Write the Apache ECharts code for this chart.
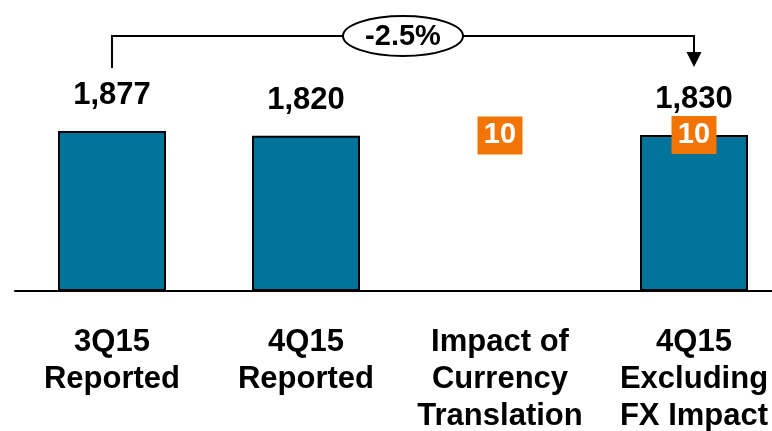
<!DOCTYPE html>
<html>
<head>
<meta charset="utf-8">
<script src="https://cdn.jsdelivr.net/npm/echarts@6/dist/echarts.min.js"></script>
<style>
    html, body { margin: 0; padding: 0; background: #fff; overflow: hidden; width: 772px; height: 431px; }
    /* 图比窗口略宽, 右侧轴线被裁掉 */
    #chart { width: 791px; height: 431px; }
</style>
</head>
<body>
<div id="chart"></div>
<script>
// 数据
var categories = ['3Q15\nReported', '4Q15\nReported', 'Impact of\nCurrency\nTranslation', '4Q15\nExcluding\nFX Impact'];
var barValues = [1877, 1820, '-', 1830];
var fxImpact = 10;
var fxCategories = [2, 3];

var tealColor = '#00739a';
var orangeColor = '#f27405';
var fontFamily = 'Liberation Sans, Arial, sans-serif';

// 橙色标签位置 (第三列浮在 1820~1830 中间, 第四列在柱顶)
var fxPoints = [
    [fxCategories[0], barValues[1] + fxImpact / 2],
    [fxCategories[1], barValues[3]]
];

var myChart = echarts.init(document.getElementById('chart'));

var option = {
    animation: false,
    grid: {
        left: 15,
        right: 0,
        top: 86.4,
        bottom: 140,
        outerBoundsMode: 'none'
    },
    textStyle: {
        fontFamily: fontFamily
    },
    xAxis: {
        type: 'category',
        data: categories,
        axisLine: {
            lineStyle: { color: '#000', width: 2 }
        },
        axisTick: { show: false },
        axisLabel: {
            interval: 0,
            margin: 33,
            color: '#000',
            fontSize: 31,
            fontWeight: 'bold',
            lineHeight: 37,
            fontFamily: fontFamily
        }
    },
    yAxis: {
        type: 'value',
        min: 0,
        max: 2400,
        show: false,
        splitLine: { show: false }
    },
    series: [
        {
            name: 'value',
            type: 'bar',
            barWidth: 108,
            data: barValues,
            itemStyle: {
                color: tealColor,
                borderColor: '#000',
                borderWidth: 2
            },
            label: {
                show: true,
                position: 'top',
                distance: 20,
                color: '#000',
                fontSize: 31,
                fontWeight: 'bold',
                fontFamily: fontFamily,
                formatter: function(p) {
                    return p.value.toLocaleString('en-US');
                }
            }
        },
        {
            name: 'fx',
            type: 'scatter',
            data: fxPoints,
            symbol: 'rect',
            symbolSize: [45, 38],
            itemStyle: { color: orangeColor, opacity: 1 },
            z: 10,
            label: {
                show: true,
                position: 'inside',
                formatter: String(fxImpact),
                color: '#fff',
                fontSize: 29,
                fontWeight: 'bold',
                fontFamily: fontFamily
            },
            emphasis: { disabled: true }
        }
    ]
};
myChart.setOption(option);

// 顶部 -2.5% 标注
var p0 = myChart.convertToPixel({ seriesIndex: 0 }, [0, 0]);
var p3 = myChart.convertToPixel({ seriesIndex: 0 }, [3, 0]);
var x0 = p0[0], x3 = p3[0];
var lineY = 36;
var midX = (x0 + x3) / 2;
var change = ((barValues[3] - barValues[0]) / barValues[0] * 100).toFixed(1) + '%';

myChart.setOption({
    graphic: [
        {
            type: 'polyline',
            shape: { points: [[x0, 68], [x0, lineY], [x3, lineY], [x3, 54]] },
            style: { stroke: '#000', lineWidth: 2, fill: null },
            z: 20
        },
        {
            type: 'polygon',
            shape: { points: [[x3 - 7.5, 52], [x3 + 7.5, 52], [x3, 67]] },
            style: { fill: '#000' },
            z: 20
        },
        {
            type: 'ellipse',
            shape: { cx: midX, cy: lineY, rx: 60, ry: 20 },
            style: { fill: '#fff', stroke: '#000', lineWidth: 2 },
            z: 21
        },
        {
            type: 'text',
            x: midX,
            y: lineY + 1,
            style: {
                text: change,
                fill: '#000',
                font: 'bold 29px ' + fontFamily,
                align: 'center',
                verticalAlign: 'middle'
            },
            z: 22
        }
    ]
});
</script>
</body>
</html>
